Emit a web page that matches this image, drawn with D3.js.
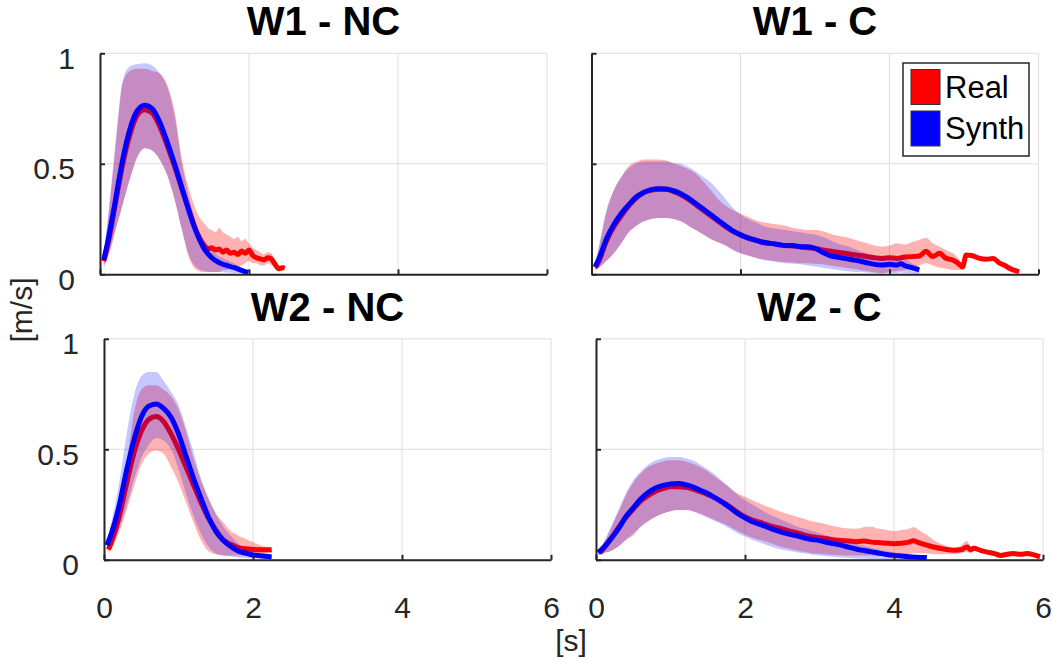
<!DOCTYPE html>
<html>
<head>
<meta charset="utf-8">
<script src="https://cdn.jsdelivr.net/npm/d3@7"></script>
<style>
  body { margin: 0; background: #fff; }
  svg { display: block; font-family: "Liberation Sans", Arial, sans-serif; }
</style>
</head>
<body>
<svg id="chart" width="1052" height="662"></svg>
<script>
// rows are [time s, mean, lower, upper] in m/s
const w1ncReal = [
  [0.05, 0.06, 0.03, 0.09], [0.10, 0.13, 0.07, 0.22], [0.15, 0.21, 0.12, 0.38],
  [0.20, 0.31, 0.19, 0.55], [0.25, 0.40, 0.25, 0.72], [0.30, 0.49, 0.31, 0.86],
  [0.40, 0.63, 0.43, 0.92], [0.50, 0.72, 0.53, 0.93], [0.60, 0.745, 0.57, 0.93],
  [0.70, 0.73, 0.56, 0.92], [0.80, 0.67, 0.52, 0.91], [0.90, 0.585, 0.45, 0.86],
  [1.00, 0.49, 0.34, 0.74], [1.10, 0.385, 0.20, 0.52], [1.20, 0.285, 0.07, 0.38],
  [1.30, 0.19, 0.02, 0.28], [1.40, 0.13, 0.01, 0.23], [1.45, 0.115, 0.01, 0.21],
  [1.50, 0.12, 0.01, 0.20], [1.55, 0.11, 0.01, 0.19], [1.60, 0.115, 0.01, 0.21],
  [1.65, 0.10, 0.02, 0.19], [1.70, 0.11, 0.02, 0.18], [1.75, 0.095, 0.03, 0.17],
  [1.80, 0.10, 0.03, 0.16], [1.85, 0.09, 0.03, 0.17], [1.90, 0.105, 0.04, 0.15],
  [1.95, 0.095, 0.05, 0.16], [2.00, 0.11, 0.06, 0.14], [2.05, 0.085, 0.05, 0.12],
  [2.10, 0.075, 0.05, 0.11], [2.15, 0.07, 0.04, 0.10], [2.20, 0.065, 0.04, 0.09],
  [2.25, 0.075, 0.05, 0.10], [2.30, 0.07, 0.04, 0.095], [2.35, 0.045, 0.03, 0.06],
  [2.40, 0.025, 0.02, 0.04], [2.45, 0.03, 0.02, 0.04], [2.48, 0.028, 0.02, 0.035]
];
const w1ncSynth = [
  [0.05, 0.065, 0.04, 0.09], [0.10, 0.14, 0.08, 0.24], [0.15, 0.23, 0.13, 0.40],
  [0.20, 0.32, 0.19, 0.57], [0.25, 0.42, 0.25, 0.74], [0.30, 0.51, 0.31, 0.87],
  [0.40, 0.655, 0.43, 0.94], [0.50, 0.74, 0.53, 0.95], [0.60, 0.765, 0.57, 0.955],
  [0.70, 0.75, 0.56, 0.945], [0.80, 0.69, 0.52, 0.91], [0.90, 0.60, 0.45, 0.85],
  [1.00, 0.50, 0.34, 0.72], [1.10, 0.39, 0.20, 0.50], [1.20, 0.28, 0.08, 0.34],
  [1.30, 0.185, 0.03, 0.22], [1.40, 0.115, 0.015, 0.15], [1.50, 0.075, 0.01, 0.11],
  [1.60, 0.052, 0.01, 0.08], [1.70, 0.04, 0.008, 0.065], [1.80, 0.03, 0.006, 0.05],
  [1.90, 0.018, 0.005, 0.03], [1.99, 0.008, 0.003, 0.015]
];
const w1cReal = [
  [0.05, 0.03, 0.02, 0.05], [0.10, 0.06, 0.03, 0.12], [0.20, 0.15, 0.06, 0.28],
  [0.30, 0.215, 0.095, 0.38], [0.40, 0.265, 0.14, 0.44], [0.50, 0.31, 0.19, 0.49],
  [0.60, 0.345, 0.22, 0.51], [0.70, 0.37, 0.24, 0.52], [0.80, 0.38, 0.25, 0.52],
  [0.90, 0.385, 0.255, 0.52], [1.00, 0.385, 0.255, 0.515], [1.10, 0.375, 0.25, 0.50],
  [1.20, 0.36, 0.24, 0.49], [1.30, 0.34, 0.22, 0.475], [1.40, 0.315, 0.20, 0.455],
  [1.50, 0.29, 0.18, 0.42], [1.60, 0.265, 0.16, 0.38], [1.70, 0.24, 0.145, 0.34],
  [1.80, 0.215, 0.13, 0.31], [1.90, 0.195, 0.11, 0.29], [2.00, 0.18, 0.095, 0.275],
  [2.10, 0.165, 0.085, 0.26], [2.20, 0.155, 0.075, 0.245], [2.30, 0.145, 0.068, 0.235],
  [2.40, 0.14, 0.062, 0.23], [2.50, 0.135, 0.058, 0.225], [2.60, 0.13, 0.055, 0.22],
  [2.70, 0.128, 0.053, 0.21], [2.80, 0.125, 0.05, 0.205], [2.90, 0.12, 0.05, 0.20],
  [3.00, 0.117, 0.048, 0.20], [3.10, 0.11, 0.045, 0.195], [3.20, 0.105, 0.04, 0.185],
  [3.30, 0.10, 0.035, 0.175], [3.40, 0.095, 0.03, 0.17], [3.50, 0.09, 0.025, 0.16],
  [3.60, 0.085, 0.02, 0.15], [3.70, 0.08, 0.015, 0.14], [3.80, 0.075, 0.008, 0.13],
  [3.90, 0.072, 0.005, 0.125], [4.00, 0.075, 0.01, 0.13], [4.10, 0.072, 0.015, 0.14],
  [4.20, 0.078, 0.02, 0.135], [4.30, 0.08, 0.03, 0.145], [4.40, 0.083, 0.04, 0.155],
  [4.49, 0.104, 0.05, 0.165], [4.58, 0.08, 0.04, 0.14], [4.67, 0.095, 0.03, 0.125],
  [4.76, 0.072, 0.025, 0.11], [4.85, 0.065, 0.02, 0.095], [4.92, 0.05, 0.02, 0.075],
  [4.98, 0.034, 0.02, 0.05], [5.03, 0.087, 0.087, 0.087], [5.10, 0.085, 0.085, 0.085],
  [5.21, 0.072, 0.072, 0.072], [5.30, 0.068, 0.068, 0.068], [5.39, 0.072, 0.072, 0.072],
  [5.48, 0.05, 0.05, 0.05], [5.55, 0.04, 0.04, 0.04], [5.61, 0.027, 0.027, 0.027],
  [5.68, 0.018, 0.018, 0.018], [5.74, 0.012, 0.012, 0.012]
];
const w1cSynth = [
  [0.05, 0.035, 0.02, 0.05], [0.10, 0.07, 0.03, 0.13], [0.20, 0.16, 0.06, 0.29],
  [0.30, 0.225, 0.095, 0.38], [0.40, 0.275, 0.14, 0.44], [0.50, 0.315, 0.19, 0.48],
  [0.60, 0.35, 0.22, 0.50], [0.70, 0.37, 0.24, 0.51], [0.80, 0.383, 0.25, 0.51],
  [0.90, 0.387, 0.255, 0.51], [1.00, 0.386, 0.255, 0.51], [1.10, 0.378, 0.25, 0.505],
  [1.20, 0.365, 0.24, 0.50], [1.30, 0.345, 0.22, 0.485], [1.40, 0.32, 0.20, 0.465],
  [1.50, 0.295, 0.18, 0.44], [1.60, 0.27, 0.16, 0.415], [1.70, 0.245, 0.145, 0.38],
  [1.80, 0.22, 0.13, 0.34], [1.90, 0.195, 0.11, 0.30], [2.00, 0.178, 0.095, 0.27],
  [2.10, 0.165, 0.085, 0.25], [2.20, 0.155, 0.075, 0.235], [2.30, 0.145, 0.065, 0.22],
  [2.40, 0.14, 0.06, 0.21], [2.50, 0.135, 0.055, 0.205], [2.60, 0.13, 0.05, 0.20],
  [2.70, 0.13, 0.048, 0.195], [2.80, 0.125, 0.045, 0.19], [2.90, 0.125, 0.04, 0.185],
  [3.00, 0.118, 0.035, 0.18], [3.10, 0.10, 0.03, 0.17], [3.20, 0.085, 0.025, 0.155],
  [3.30, 0.078, 0.02, 0.14], [3.40, 0.072, 0.015, 0.13], [3.50, 0.066, 0.012, 0.12],
  [3.60, 0.06, 0.01, 0.105], [3.70, 0.052, 0.008, 0.095], [3.80, 0.045, 0.006, 0.085],
  [3.90, 0.042, 0.005, 0.08], [4.00, 0.045, 0.006, 0.08], [4.10, 0.042, 0.006, 0.075],
  [4.15, 0.048, 0.008, 0.08], [4.20, 0.04, 0.006, 0.07], [4.30, 0.03, 0.004, 0.05],
  [4.40, 0.02, 0.003, 0.035]
];
const w2ncReal = [
  [0.06, 0.046, 0.03, 0.06], [0.10, 0.08, 0.05, 0.11], [0.20, 0.19, 0.12, 0.28],
  [0.30, 0.34, 0.22, 0.43], [0.40, 0.48, 0.33, 0.66], [0.50, 0.58, 0.43, 0.77],
  [0.60, 0.635, 0.48, 0.79], [0.70, 0.648, 0.495, 0.79], [0.80, 0.625, 0.48, 0.77],
  [0.90, 0.57, 0.42, 0.74], [1.00, 0.50, 0.35, 0.68], [1.10, 0.42, 0.26, 0.58],
  [1.20, 0.34, 0.17, 0.46], [1.30, 0.26, 0.09, 0.36], [1.40, 0.19, 0.04, 0.28],
  [1.50, 0.135, 0.025, 0.21], [1.60, 0.09, 0.02, 0.17], [1.70, 0.07, 0.02, 0.13],
  [1.80, 0.055, 0.02, 0.11], [1.90, 0.05, 0.02, 0.095], [2.00, 0.047, 0.02, 0.08],
  [2.10, 0.045, 0.025, 0.065], [2.20, 0.045, 0.03, 0.058], [2.25, 0.046, 0.035, 0.055]
];
const w2ncSynth = [
  [0.04, 0.066, 0.045, 0.085], [0.10, 0.12, 0.07, 0.17], [0.20, 0.24, 0.14, 0.34],
  [0.30, 0.40, 0.24, 0.56], [0.40, 0.54, 0.36, 0.74], [0.50, 0.645, 0.46, 0.83],
  [0.60, 0.695, 0.52, 0.85], [0.70, 0.705, 0.55, 0.85], [0.80, 0.685, 0.54, 0.81],
  [0.90, 0.645, 0.50, 0.76], [1.00, 0.57, 0.41, 0.70], [1.10, 0.47, 0.30, 0.60],
  [1.20, 0.37, 0.20, 0.49], [1.30, 0.28, 0.12, 0.37], [1.40, 0.195, 0.06, 0.28],
  [1.50, 0.13, 0.03, 0.21], [1.60, 0.088, 0.02, 0.15], [1.70, 0.06, 0.015, 0.11],
  [1.80, 0.04, 0.01, 0.075], [1.90, 0.03, 0.008, 0.05], [2.00, 0.022, 0.006, 0.035],
  [2.10, 0.018, 0.005, 0.028], [2.25, 0.013, 0.004, 0.02]
];
const w2cReal = [
  [0.05, 0.03, 0.02, 0.04], [0.10, 0.05, 0.03, 0.07], [0.20, 0.095, 0.04, 0.14],
  [0.30, 0.145, 0.06, 0.215], [0.40, 0.19, 0.09, 0.29], [0.50, 0.23, 0.11, 0.35],
  [0.60, 0.265, 0.15, 0.39], [0.70, 0.29, 0.175, 0.42], [0.80, 0.31, 0.195, 0.435],
  [0.90, 0.322, 0.21, 0.445], [1.00, 0.33, 0.22, 0.45], [1.10, 0.33, 0.225, 0.45],
  [1.20, 0.328, 0.225, 0.445], [1.30, 0.32, 0.22, 0.435], [1.40, 0.308, 0.21, 0.42],
  [1.50, 0.295, 0.195, 0.40], [1.60, 0.28, 0.18, 0.375], [1.70, 0.26, 0.165, 0.35],
  [1.80, 0.24, 0.15, 0.325], [1.90, 0.215, 0.13, 0.30], [2.00, 0.195, 0.115, 0.285],
  [2.10, 0.18, 0.10, 0.27], [2.20, 0.17, 0.09, 0.255], [2.30, 0.158, 0.08, 0.24],
  [2.40, 0.148, 0.068, 0.228], [2.50, 0.14, 0.058, 0.215], [2.60, 0.13, 0.05, 0.205],
  [2.70, 0.122, 0.042, 0.195], [2.80, 0.112, 0.035, 0.185], [2.90, 0.104, 0.03, 0.175],
  [3.00, 0.10, 0.027, 0.168], [3.10, 0.095, 0.024, 0.16], [3.20, 0.09, 0.022, 0.152],
  [3.30, 0.087, 0.02, 0.145], [3.40, 0.085, 0.02, 0.142], [3.50, 0.082, 0.02, 0.14],
  [3.60, 0.085, 0.02, 0.148], [3.70, 0.08, 0.02, 0.15], [3.80, 0.078, 0.02, 0.14],
  [3.90, 0.075, 0.02, 0.135], [4.00, 0.073, 0.02, 0.13], [4.10, 0.075, 0.02, 0.135],
  [4.20, 0.08, 0.025, 0.14], [4.26, 0.086, 0.03, 0.148], [4.35, 0.075, 0.03, 0.13],
  [4.45, 0.065, 0.03, 0.11], [4.53, 0.058, 0.025, 0.09], [4.65, 0.05, 0.025, 0.07],
  [4.80, 0.043, 0.025, 0.055], [4.90, 0.045, 0.03, 0.065], [4.98, 0.058, 0.035, 0.085],
  [5.03, 0.045, 0.03, 0.06], [5.07, 0.052, 0.045, 0.058], [5.16, 0.043, 0.043, 0.043],
  [5.25, 0.035, 0.035, 0.035], [5.35, 0.028, 0.028, 0.028], [5.43, 0.02, 0.02, 0.02],
  [5.52, 0.025, 0.025, 0.025], [5.60, 0.028, 0.028, 0.028], [5.70, 0.025, 0.025, 0.025],
  [5.78, 0.028, 0.028, 0.028], [5.88, 0.022, 0.022, 0.022], [5.96, 0.013, 0.013, 0.013]
];
const w2cSynth = [
  [0.03, 0.033, 0.02, 0.045], [0.10, 0.055, 0.03, 0.08], [0.20, 0.095, 0.04, 0.15],
  [0.30, 0.14, 0.06, 0.225], [0.40, 0.195, 0.09, 0.30], [0.50, 0.235, 0.12, 0.36],
  [0.60, 0.275, 0.15, 0.40], [0.70, 0.305, 0.175, 0.43], [0.80, 0.325, 0.195, 0.45],
  [0.90, 0.337, 0.21, 0.46], [1.00, 0.343, 0.22, 0.465], [1.10, 0.345, 0.225, 0.465],
  [1.20, 0.34, 0.225, 0.46], [1.30, 0.33, 0.22, 0.45], [1.40, 0.315, 0.205, 0.43],
  [1.50, 0.30, 0.19, 0.41], [1.60, 0.28, 0.175, 0.385], [1.70, 0.26, 0.16, 0.355],
  [1.80, 0.235, 0.14, 0.325], [1.90, 0.21, 0.12, 0.295], [2.00, 0.19, 0.105, 0.27],
  [2.10, 0.172, 0.09, 0.25], [2.20, 0.16, 0.078, 0.23], [2.30, 0.148, 0.066, 0.21],
  [2.40, 0.135, 0.055, 0.195], [2.50, 0.124, 0.045, 0.18], [2.60, 0.115, 0.04, 0.165],
  [2.70, 0.108, 0.034, 0.15], [2.80, 0.098, 0.028, 0.14], [2.90, 0.092, 0.023, 0.13],
  [3.00, 0.087, 0.02, 0.12], [3.10, 0.078, 0.016, 0.11], [3.20, 0.072, 0.013, 0.10],
  [3.30, 0.065, 0.01, 0.09], [3.40, 0.056, 0.008, 0.08], [3.50, 0.048, 0.006, 0.07],
  [3.60, 0.042, 0.005, 0.062], [3.70, 0.036, 0.004, 0.055], [3.80, 0.03, 0.004, 0.048],
  [3.90, 0.024, 0.003, 0.04], [4.00, 0.02, 0.003, 0.034], [4.10, 0.017, 0.003, 0.028],
  [4.20, 0.014, 0.002, 0.024], [4.30, 0.012, 0.002, 0.02], [4.44, 0.01, 0.002, 0.016]
];

const panelTitles = ["W1 - NC", "W1 - C", "W2 - NC", "W2 - C"];
const xTicks = [0, 2, 4, 6];
const yTicks = [0, 0.5, 1];
const yTickLabels = ["0", "0.5", "1"];
const legendLabels = ["Real", "Synth"];

//panel layout (matlab subplots are not quite aligned)
const W = 447, H = 221;
const panels = [
  { title: panelTitles[0], real: w1ncReal, synth: w1ncSynth, left: 100, top: 53.3, xLab: false, yLab: true },
  { title: panelTitles[1], real: w1cReal, synth: w1cSynth, left: 591.5, top: 53.3, xLab: false, yLab: false },
  { title: panelTitles[2], real: w2ncReal, synth: w2ncSynth, left: 104, top: 338.8, xLab: true, yLab: true },
  { title: panelTitles[3], real: w2cReal, synth: w2cSynth, left: 596, top: 338.8, xLab: true, yLab: false }
];

const svg = d3.select("#chart");
const axisColor = "#262626";

panels.forEach((p) => {
  const x = d3.scaleLinear().domain([0, 6]).range([p.left, p.left + W]);
  const y = d3.scaleLinear().domain([0, 1]).range([p.top + H, p.top]);
  const g = svg.append("g");

  //grid
  g.selectAll(".vgrid").data(xTicks).join("line")
    .attr("x1", d => x(d)).attr("x2", d => x(d))
    .attr("y1", y(0)).attr("y2", y(1))
    .attr("stroke", "#dedede").attr("stroke-width", 1);
  g.selectAll(".hgrid").data(yTicks).join("line")
    .attr("x1", x(0)).attr("x2", x(6))
    .attr("y1", d => y(d)).attr("y2", d => y(d))
    .attr("stroke", "#dedede").attr("stroke-width", 1);

  const area = d3.area()
    .x(d => x(d[0])).y0(d => y(d[2])).y1(d => y(d[3]))
    .curve(d3.curveMonotoneX);
  const line = d3.line()
    .x(d => x(d[0])).y(d => y(d[1]))
    .curve(d3.curveMonotoneX);

  //real first, synth band goes over the red line
  g.append("path").datum(p.real).attr("d", area)
    .attr("fill", "#ff0000").attr("fill-opacity", 0.3);
  g.append("path").datum(p.real).attr("d", line)
    .attr("fill", "none").attr("stroke", "#ff0000").attr("stroke-width", 5);
  g.append("path").datum(p.synth).attr("d", area)
    .attr("fill", "#0000ff").attr("fill-opacity", 0.22);
  g.append("path").datum(p.synth).attr("d", line)
    .attr("fill", "none").attr("stroke", "#0000ff").attr("stroke-width", 5);

  //axes
  const yAxis = d3.axisLeft(y).tickValues(yTicks)
    .tickFormat((d, k) => p.yLab ? yTickLabels[k] : "")
    .tickSize(-5).tickSizeOuter(0).tickPadding(25);
  g.append("g").attr("transform", `translate(${x(0)},0)`).call(yAxis)
    .call(a => a.select(".domain").attr("stroke", axisColor).attr("stroke-width", 2))
    .call(a => a.selectAll(".tick line").attr("stroke", axisColor).attr("stroke-width", 2))
    .call(a => a.selectAll("text").attr("dy", "0.5em")
      .style("font-size", "30px").attr("fill", axisColor));

  const xAxis = d3.axisBottom(x).tickValues(xTicks)
    .tickFormat(d => p.xLab ? d : "")
    .tickSize(-5).tickSizeOuter(0).tickPadding(37);
  g.append("g").attr("transform", `translate(0,${y(0)})`).call(xAxis)
    .call(a => a.select(".domain").attr("stroke", axisColor).attr("stroke-width", 2))
    .call(a => a.selectAll(".tick line").attr("stroke", axisColor).attr("stroke-width", 2))
    .call(a => a.selectAll("text").style("font-size", "30px").attr("fill", axisColor));

  g.append("text")
    .attr("x", p.left + W / 2).attr("y", p.top - 18)
    .attr("text-anchor", "middle")
    .style("font-size", "40px").style("font-weight", "bold")
    .text(p.title);
});

//axis labels
svg.append("text")
  .attr("transform", "translate(32,310) rotate(-90)")
  .attr("text-anchor", "middle")
  .style("font-size", "30px").attr("fill", axisColor)
  .text("[m/s]");
svg.append("text")
  .attr("x", 571).attr("y", 651)
  .attr("text-anchor", "middle")
  .style("font-size", "30px").attr("fill", axisColor)
  .text("[s]");

//legend
const legend = svg.append("g");
legend.append("rect")
  .attr("x", 903).attr("y", 63).attr("width", 126).attr("height", 93)
  .attr("fill", "#fff").attr("stroke", axisColor).attr("stroke-width", 1.5);
const legendColors = ["#ff0000", "#0000ff"];
legendLabels.forEach((lab, k) => {
  legend.append("rect")
    .attr("x", 911).attr("y", 69.5 + k * 41.5).attr("width", 29).attr("height", 35)
    .attr("fill", legendColors[k]).attr("stroke", "#333").attr("stroke-width", 1);
  legend.append("text")
    .attr("x", 945).attr("y", 97.5 + k * 41.5)
    .style("font-size", "31px").attr("fill", "#000")
    .text(lab);
});
</script>
</body>
</html>
